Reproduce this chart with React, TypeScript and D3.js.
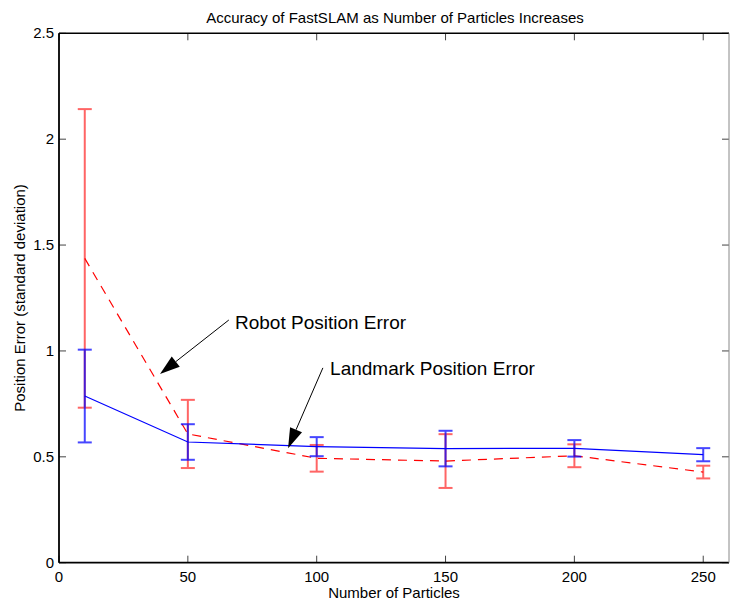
import React from "react";
import * as d3 from "d3";

const particles = [10, 50, 100, 150, 200, 250];
const robotMean = [1.437, 0.608, 0.493, 0.48, 0.505, 0.428];
const robotErr = [0.705, 0.161, 0.063, 0.127, 0.054, 0.03];
const landmarkMean = [0.787, 0.57, 0.548, 0.539, 0.54, 0.51];
const landmarkErr = [0.219, 0.084, 0.045, 0.084, 0.039, 0.031];
const xTicks = [0, 50, 100, 150, 200, 250];
const yTicks = [0, 0.5, 1, 1.5, 2, 2.5];
const yTickLabels = ["0", "0.5", "1", "1.5", "2", "2.5"];

const title = "Accuracy of FastSLAM as Number of Particles Increases";
const xLabel = "Number of Particles";
const yLabel = "Position Error (standard deviation)";

const annotations = [
  { text: "Robot Position Error", tx: 68.3, ty: 1.105, sx: 65.9, sy: 1.146, ex: 39.2, ey: 0.891 },
  { text: "Landmark Position Error", tx: 105.2, ty: 0.887, sx: 102.4, sy: 0.92, ex: 88.9, ey: 0.541 },
];

const W = 730;
const H = 606;
const left = 59;
const right = 729;
const top = 33.3;
const bottom = 562.7;
const FONT = "'Liberation Sans', Arial, Helvetica, sans-serif";

export default function App() {
  const x = d3.scaleLinear().domain([0, 260]).range([left, right]);
  const y = d3.scaleLinear().domain([0, 2.5]).range([bottom, top]);
  const line = d3
    .line<[number, number]>()
    .x((d) => x(d[0]))
    .y((d) => y(d[1]));

  const robotPts = particles.map((p, i) => [p, robotMean[i]] as [number, number]);
  const landPts = particles.map((p, i) => [p, landmarkMean[i]] as [number, number]);
  const tick = 7;
  const cap = 7;

  const errBars = (means: number[], errs: number[], color: string, op: number) =>
    particles.map((p, i) => {
      const cx = x(p);
      const y1 = y(means[i] + errs[i]);
      const y2 = y(means[i] - errs[i]);
      return (
        <g key={i} stroke={color} strokeWidth={2} opacity={op}>
          <line x1={cx} x2={cx} y1={y1} y2={y2} />
          <line x1={cx - cap} x2={cx + cap} y1={y1} y2={y1} />
          <line x1={cx - cap} x2={cx + cap} y1={y2} y2={y2} />
        </g>
      );
    });

  const arrow = (a: (typeof annotations)[number], i: number) => {
    const sx = x(a.sx), sy = y(a.sy), ex = x(a.ex), ey = y(a.ey);
    const ang = Math.atan2(ey - sy, ex - sx);
    const hl = 20, hw = 6.5;
    const bx = ex - hl * Math.cos(ang), by = ey - hl * Math.sin(ang);
    const px = -Math.sin(ang), py = Math.cos(ang);
    const head = `M${ex},${ey} L${bx + hw * px},${by + hw * py} L${bx - hw * px},${by - hw * py} Z`;
    return (
      <g key={i}>
        <line x1={sx} y1={sy} x2={bx} y2={by} stroke="black" strokeWidth={1} />
        <path d={head} fill="black" />
        <text x={x(a.tx)} y={y(a.ty)} fontSize={19} fontFamily={FONT} fill="black">
          {a.text}
        </text>
      </g>
    );
  };

  return (
    <svg width={W} height={H} style={{ position: "absolute", left: 0, top: 0, background: "white" }}>
      <rect x={0} y={0} width={W} height={H} fill="white" />
      {/* ticks */}
      <g stroke="#444" strokeWidth={1}>
        {xTicks.map((t) => (
          <g key={"xt" + t}>
            <line x1={x(t)} x2={x(t)} y1={bottom} y2={bottom - tick} />
            <line x1={x(t)} x2={x(t)} y1={top} y2={top + tick} />
          </g>
        ))}
        {yTicks.map((t) => (
          <g key={"yt" + t}>
            <line x1={left} x2={left + tick} y1={y(t)} y2={y(t)} />
            <line x1={right} x2={right - tick} y1={y(t)} y2={y(t)} />
          </g>
        ))}
      </g>
      {/* data */}
      {errBars(robotMean, robotErr, "#ff0000", 0.6)}
      <path d={line(robotPts) || ""} fill="none" stroke="#ff0000" strokeWidth={1.2} strokeDasharray="9,7" />
      {errBars(landmarkMean, landmarkErr, "#0000ff", 0.72)}
      <path d={line(landPts) || ""} fill="none" stroke="#0000ff" strokeWidth={1.2} />
      {/* box */}
      <line x1={left} x2={right} y1={top} y2={top} stroke="black" strokeWidth={1.5} />
      <line x1={left} x2={right} y1={bottom} y2={bottom} stroke="black" strokeWidth={1.8} />
      <line x1={left} x2={left} y1={top} y2={bottom} stroke="black" strokeWidth={1.8} />
      <line x1={right} x2={right} y1={top} y2={bottom} stroke="#888" strokeWidth={1} />
      {/* tick labels */}
      <g fontFamily={FONT} fontSize={15} fill="black">
        {xTicks.map((t) => (
          <text key={"xl" + t} x={x(t)} y={bottom + 19} textAnchor="middle">
            {t}
          </text>
        ))}
        {yTicks.map((t, i) => (
          <text key={"yl" + t} x={left - 5} y={y(t) + 5} textAnchor="end">
            {yTickLabels[i]}
          </text>
        ))}
        <text x={(left + right) / 2} y={598} textAnchor="middle">
          {xLabel}
        </text>
        <text
          transform={`translate(25,${(top + bottom) / 2}) rotate(-90)`}
          textAnchor="middle"
        >
          {yLabel}
        </text>
        <text x={(left + right) / 2 + 1} y={23} textAnchor="middle">
          {title}
        </text>
      </g>
      {annotations.map(arrow)}
    </svg>
  );
}
